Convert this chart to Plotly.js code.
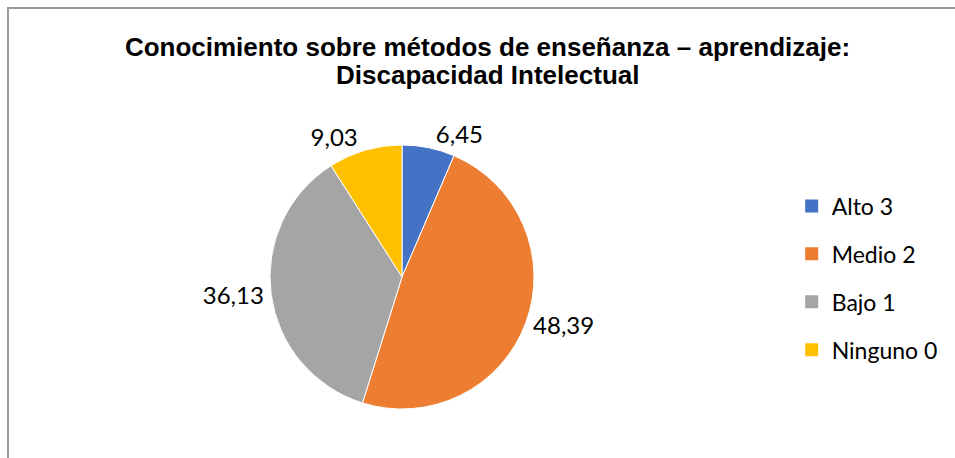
<!DOCTYPE html>
<html>
<head>
<meta charset="utf-8">
<script src="https://cdn.plot.ly/plotly-3.0.1.min.js"></script>
<style>
html,body{margin:0;padding:0;background:#fff;}
#wrap{position:relative;width:955px;height:458px;overflow:hidden;}
#frame{position:absolute;left:7px;top:7px;width:970px;height:470px;border:2px solid #9a9a9a;box-sizing:border-box;pointer-events:none;}
#chart{position:absolute;left:0;top:0;width:955px;height:458px;}
</style>
</head>
<body>
<div id="wrap">
<div id="chart"></div>
<div id="frame"></div>
</div>
<script>
const titleLine1 = "Conocimiento sobre métodos de enseñanza – aprendizaje:";
const titleLine2 = "Discapacidad Intelectual";
const categories = ["Alto 3", "Medio 2", "Bajo 1", "Ninguno 0"];
const values = [6.45, 48.39, 36.13, 9.03];
const valueLabels = ["6,45", "48,39", "36,13", "9,03"];
const colors = ["#4472C4", "#ED7D31", "#A5A5A5", "#FFC000"];

const labelFont = "Lato, 'Open Sans', sans-serif";
const titleFont = "'Liberation Sans', Arial, sans-serif";

const pie = {
  type: "pie",
  labels: categories,
  values: values,
  text: valueLabels,
  textinfo: "text",
  textposition: "outside",
  sort: false,
  direction: "clockwise",
  rotation: 0,
  showlegend: false,
  marker: {colors: colors, line: {color: "#ffffff", width: 1}},
  outsidetextfont: {family: labelFont, size: 24, color: "#000"},
  domain: {x: [270/955, 534/955], y: [49/458, 313/458]},
  hoverinfo: "label+value"
};

const legendTraces = categories.map((c, i) => ({
  type: "scatter",
  mode: "markers",
  x: [null], y: [null],
  name: c,
  legendgroup: "g" + i,
  marker: {symbol: "square", size: 13, color: colors[i]},
  showlegend: true,
  hoverinfo: "skip"
}));

const layout = {
  width: 955, height: 458,
  margin: {l: 0, r: 0, t: 0, b: 0},
  paper_bgcolor: "#fff", plot_bgcolor: "#fff",
  title: {
    text: "<b>" + titleLine1 + "</b>",
    font: {family: titleFont, size: 26, color: "#000"},
    x: 0.5105, xanchor: "center", y: 1 - 47/458, yanchor: "middle"
  },
  annotations: [{
    text: "<b>" + titleLine2 + "</b>",
    font: {family: titleFont, size: 26, color: "#000"},
    xref: "paper", yref: "paper", x: 0.5105, y: 1 - 75/458,
    xanchor: "center", yanchor: "middle", showarrow: false
  }],
  xaxis: {visible: false}, yaxis: {visible: false},
  showlegend: true,
  legend: {
    x: 0.829, xanchor: "left", y: 1 - 278/458, yanchor: "middle",
    traceorder: "grouped", tracegroupgap: 15,
    font: {family: labelFont, size: 23, color: "#000"},
    bgcolor: "rgba(0,0,0,0)", itemwidth: 30
  }
};

Plotly.newPlot("chart", [pie].concat(legendTraces), layout, {displayModeBar: false, staticPlot: true});
</script>
</body>
</html>
